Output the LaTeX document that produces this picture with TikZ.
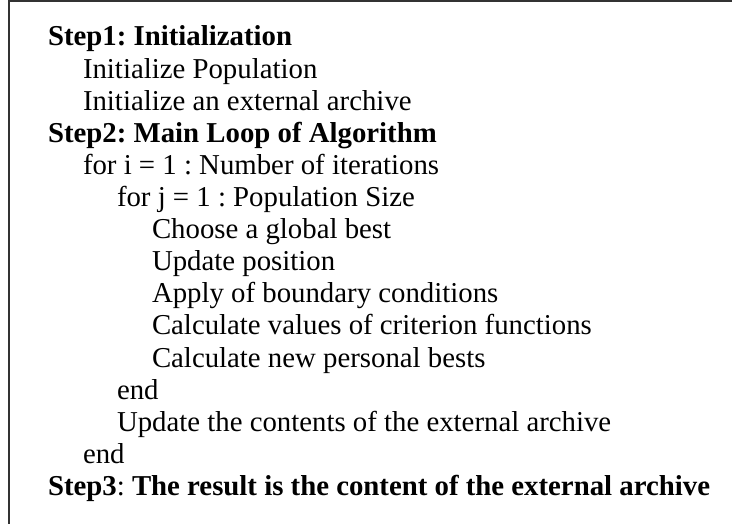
\documentclass[tikz,border=0pt]{standalone}
\usepackage{fontspec}
\setmainfont{Liberation Serif}
\frenchspacing
\begin{document}
\begin{tikzpicture}[x=1pt,y=-1pt,
  ln/.style={anchor=base west,inner sep=0pt,outer sep=0pt,
    font=\fontsize{28.8}{32}\selectfont},
  hd/.style={ln,font=\fontsize{28.8}{32}\selectfont\bfseries},
  frameline/.style={draw=black!80,line width=1.6pt}]
\useasboundingbox (0,0) rectangle (732,524);
% open frame: left and top edges
\draw[frameline] (9,524) -- (9,0.8) -- (732,0.8);
% indentation levels and line pitch
\def\la{48}\def\lb{83}\def\lc{117}\def\ld{152}
\def\pitch{32.1}
\node[hd] (s1)  at (\la,{46+0*\pitch})  {Step1: Initialization};
\node[ln] (ip)  at (\lb,{46+1*\pitch})  {Initialize Population};
\node[ln] (ia)  at (\lb,{46+2*\pitch})  {Initialize an external archive};
\node[hd] (s2)  at (\la,{46+3*\pitch})  {Step2: Main Loop of Algorithm};
\node[ln] (fi)  at (\lb,{46+4*\pitch})  {for i = 1 : Number of iterations};
\node[ln] (fj)  at (\lc,{46+5*\pitch})  {for j = 1 : Population Size};
\node[ln] (cg)  at (\ld,{46+6*\pitch})  {Choose a global best};
\node[ln] (up)  at (\ld,{46+7*\pitch})  {Update position};
\node[ln] (ab)  at (\ld,{46+8*\pitch})  {Apply of boundary conditions};
\node[ln] (cv)  at (\ld,{46+9*\pitch})  {Calculate values of criterion functions};
\node[ln] (cp)  at (\ld,{46+10*\pitch}) {Calculate new personal bests};
\node[ln] (ej)  at (\lc,{46+11*\pitch}) {end};
\node[ln] (ua)  at (\lc,{46+12*\pitch}) {Update the contents of the external archive};
\node[ln] (ei)  at (\lb,{46+13*\pitch}) {end};
\node[ln] (s3)  at (\la,{46+14*\pitch}) {\textbf{Step3}: \textbf{The result is the content of the external archive}};
\end{tikzpicture}
\end{document}
